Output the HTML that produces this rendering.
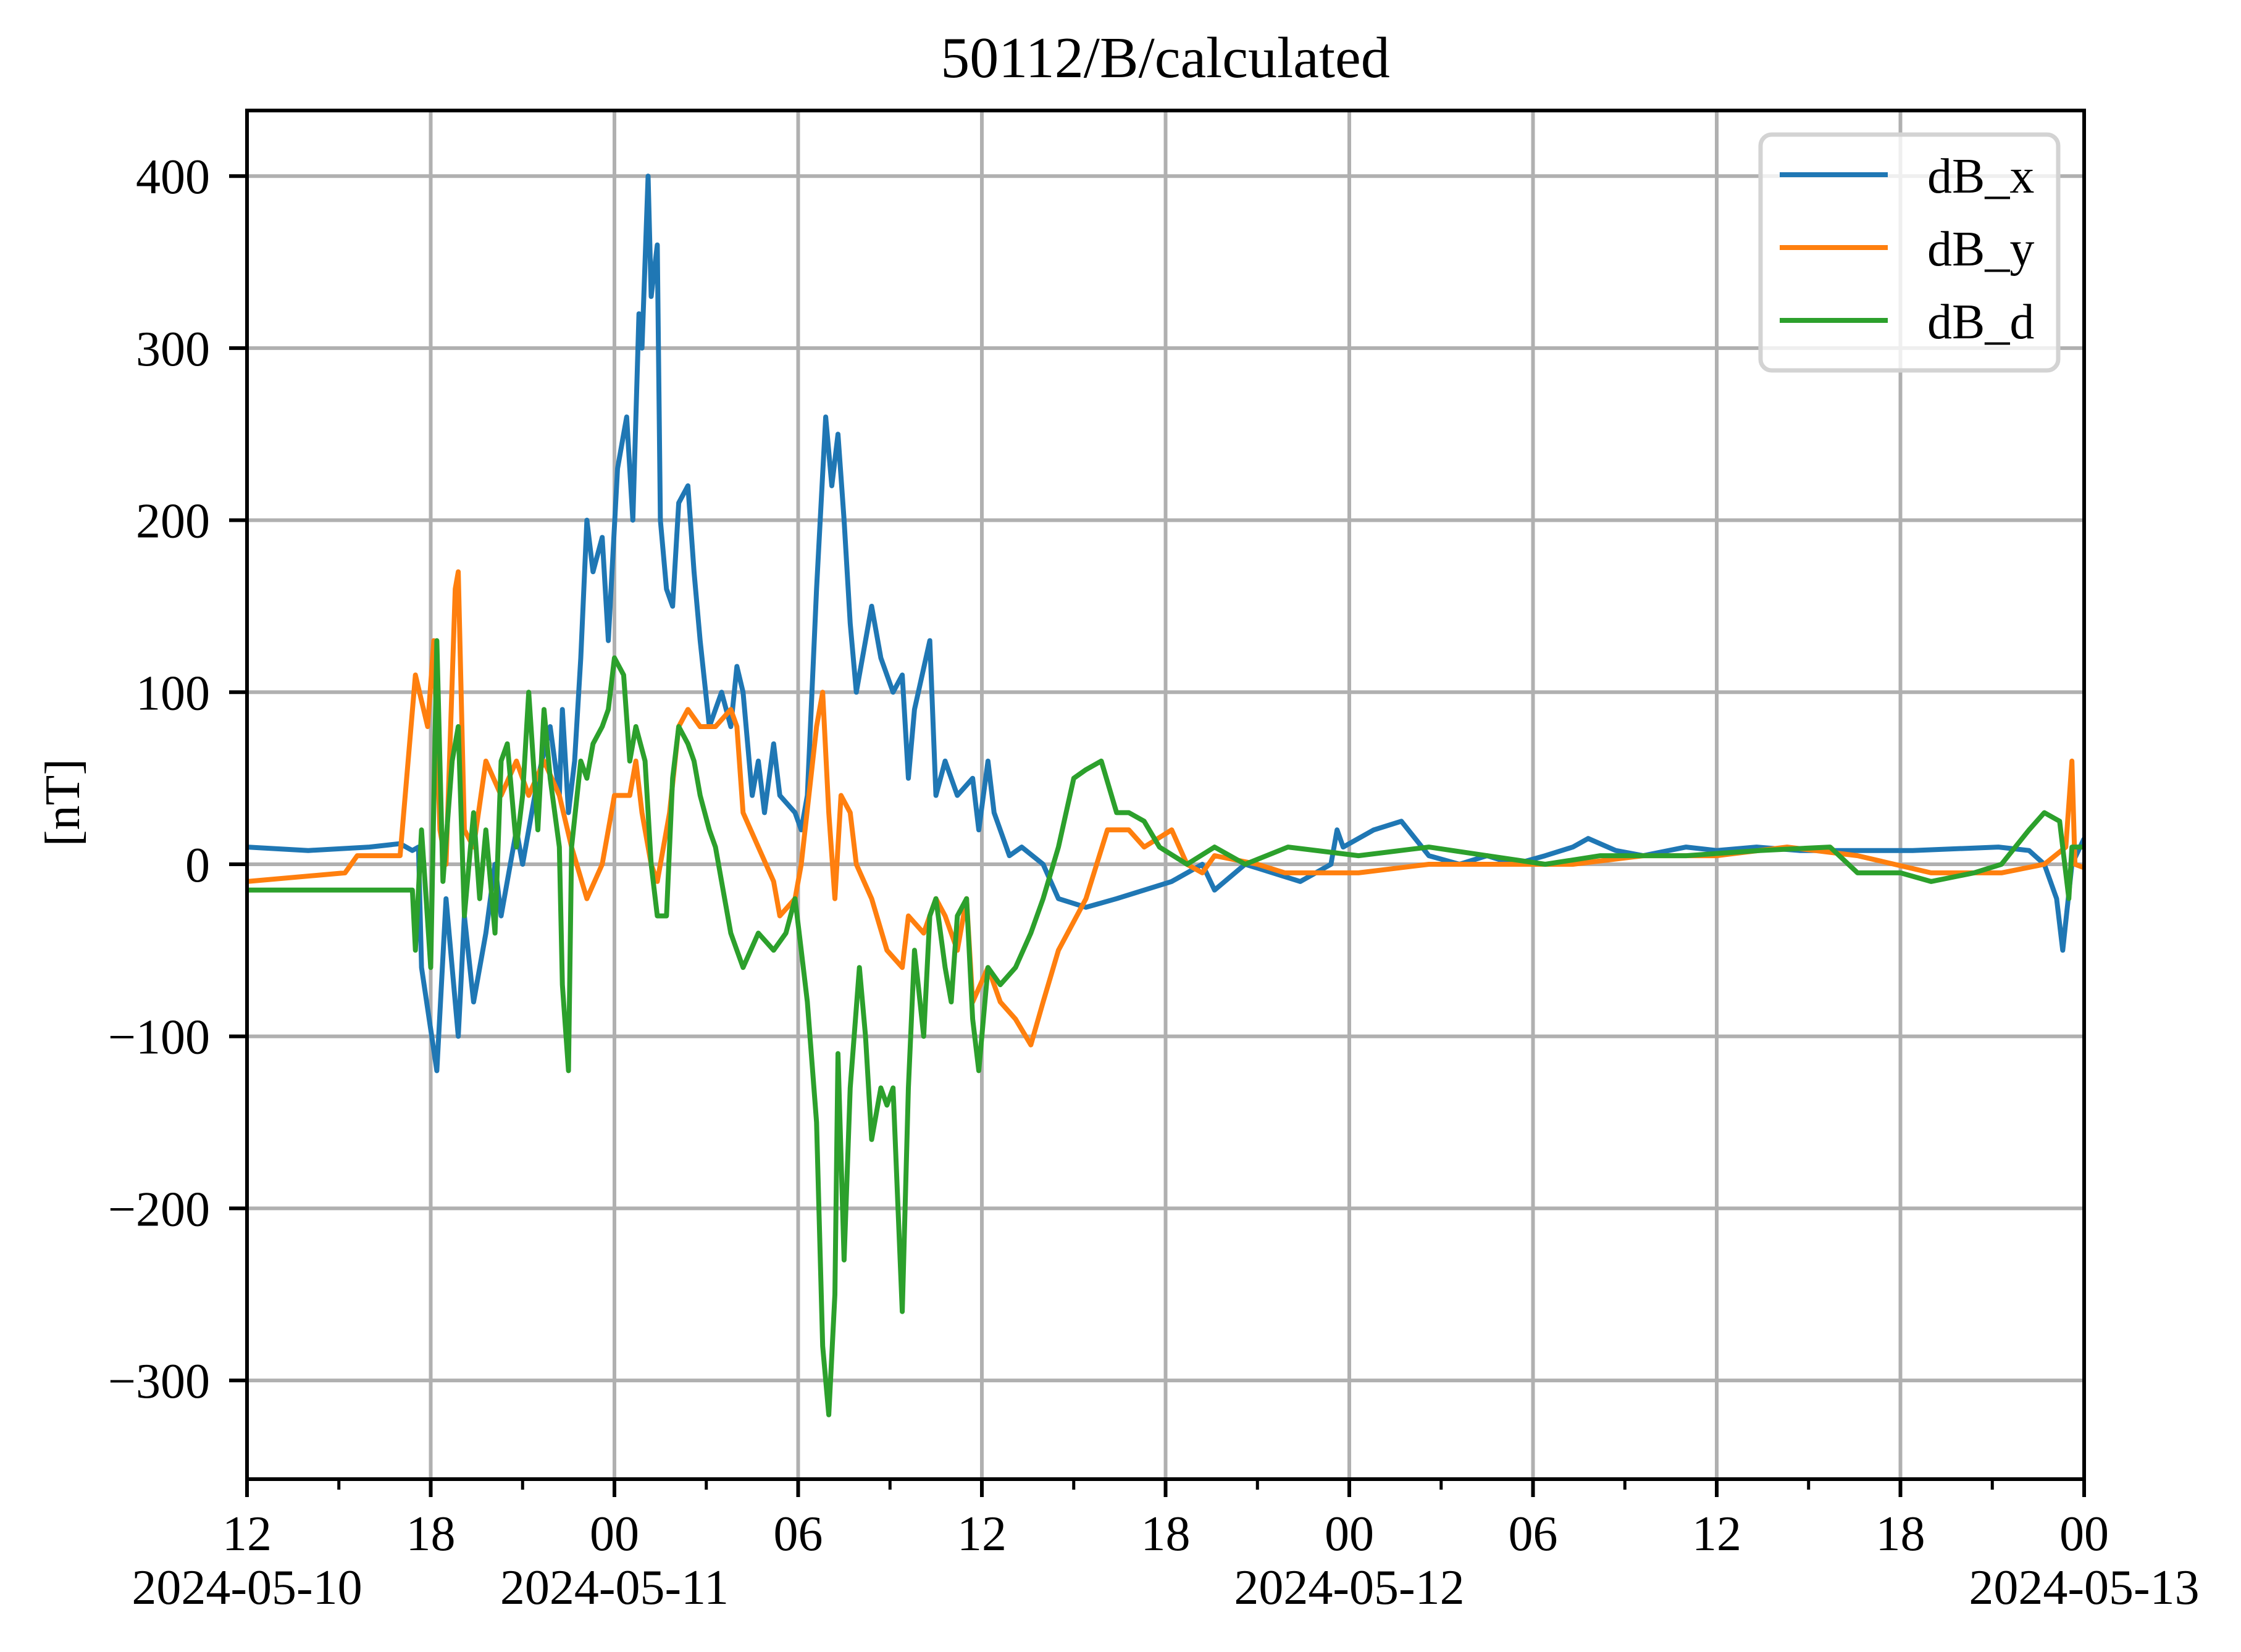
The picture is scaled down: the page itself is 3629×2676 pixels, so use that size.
<!DOCTYPE html>
<html><head><meta charset="utf-8"><style>
html,body{margin:0;padding:0;background:#fff;}
svg{display:block;font-family:"Liberation Serif","DejaVu Serif",serif;}
</style></head><body>
<svg id="chart" width="3629" height="2676" viewBox="0 0 3629 2676" xmlns="http://www.w3.org/2000/svg">
<rect x="0" y="0" width="3629" height="2676" fill="#fff"/>
<g id="grid"></g>
<g id="series"></g>
<g id="axes"></g>
<text x="1887" y="125" font-size="94" text-anchor="middle">50112/B/calculated</text>
<text x="0" y="0" font-size="80" text-anchor="middle" transform="translate(128,1300) rotate(-90)">[nT]</text>
<g id="legend">
<rect x="2851" y="218" width="482" height="382" rx="18" fill="#fff" fill-opacity="0.8" stroke="#d3d3d3" stroke-width="7"/>
<line x1="2882" y1="283" x2="3057" y2="283" stroke="#1f77b4" stroke-width="8"/>
<text x="3121" y="312" font-size="80">dB_x</text>
<line x1="2882" y1="401" x2="3057" y2="401" stroke="#ff7f0e" stroke-width="8"/>
<text x="3121" y="430" font-size="80">dB_y</text>
<line x1="2882" y1="519" x2="3057" y2="519" stroke="#2ca02c" stroke-width="8"/>
<text x="3121" y="548" font-size="80">dB_d</text>
</g>
</svg>
<script>
// hours since 2024-05-10 12:00
const xTickHours = [0,6,12,18,24,30,36,42,48,54,60];
const xTickLabels = ["12","18","00","06","12","18","00","06","12","18","00"];
const xDateHours = [0,12,36,60];
const xDateLabels = ["2024-05-10","2024-05-11","2024-05-12","2024-05-13"];
const yTickValues = [-300,-200,-100,0,100,200,300,400];
const yTickLabels = ["\u2212300","\u2212200","\u2212100","0","100","200","300","400"];

const dbxTime = [0,2,4,5,5.4,5.6,5.7,6.2,6.5,6.7,6.9,7.1,7.4,7.8,8.1,8.3,8.8,9.0,9.5,9.9,10.2,10.3,10.5,10.7,10.9,11.1,11.3,11.6,11.8,12.1,12.4,12.6,12.8,12.9,13.1,13.2,13.4,13.5,13.7,13.9,14.1,14.4,14.6,14.8,15.1,15.5,15.8,16.0,16.2,16.5,16.7,16.9,17.2,17.4,17.9,18.1,18.3,18.6,18.9,19.1,19.3,19.5,19.7,19.9,20.4,20.7,21.1,21.4,21.6,21.8,22.3,22.5,22.8,23.2,23.7,23.9,24.2,24.4,24.7,24.9,25.3,26.0,26.5,27.4,28.4,29.3,30.2,31.2,31.6,32.6,33.5,34.4,35.4,35.6,35.8,36.8,37.7,38.6,39.6,40.5,41.4,42.4,43.3,43.8,44.7,45.6,47.0,48.0,49.3,50.7,52.6,54.4,57.2,58.2,58.7,59.1,59.3,59.6,60];
const dbxValues = [10,8,10,12,8,10,-60,-120,-20,-60,-100,-30,-80,-40,0,-30,20,0,50,80,40,90,30,60,120,200,170,190,130,230,260,200,320,300,400,330,360,200,160,150,210,220,170,130,80,100,80,115,100,40,60,30,70,40,30,20,40,160,260,220,250,200,140,100,150,120,100,110,50,90,130,40,60,40,50,20,60,30,15,5,10,0,-20,-25,-20,-15,-10,0,-15,0,-5,-10,0,20,10,20,25,5,0,5,0,5,10,15,8,5,10,8,10,8,8,8,10,8,0,-20,-50,0,15];

const dbyTime = [0,3.2,3.6,5.0,5.5,5.9,6.1,6.3,6.5,6.8,6.9,7.1,7.4,7.8,8.3,8.8,9.2,9.7,10.2,10.6,11.1,11.6,12.0,12.5,12.7,12.9,13.2,13.4,13.8,14.1,14.4,14.8,15.3,15.8,16.0,16.2,16.7,17.2,17.4,17.9,18.1,18.6,18.8,19.0,19.2,19.4,19.7,19.9,20.4,20.9,21.4,21.6,22.1,22.5,22.8,23.2,23.5,23.7,24.2,24.6,25.1,25.6,26.0,26.5,27.4,28.1,28.8,29.3,30.2,30.7,31.2,31.6,33.0,33.9,36.3,38.6,40.9,43.3,45.6,48.0,50.3,52.6,55.0,57.3,58.7,59.4,59.6,59.7,60];
const dbyValues = [-10,-5,5,5,110,80,130,20,0,160,170,20,10,60,40,60,40,60,40,10,-20,0,40,40,60,30,0,-10,30,80,90,80,80,90,80,30,10,-10,-30,-20,0,80,100,30,-20,40,30,0,-20,-50,-60,-30,-40,-20,-30,-50,-20,-80,-60,-80,-90,-105,-80,-50,-20,20,20,10,20,0,-5,5,0,-5,-5,0,0,0,5,5,10,5,-5,-5,0,10,60,0,-2];

const dbdTime = [0,2.7,5.4,5.5,5.7,6.0,6.2,6.4,6.7,6.9,7.1,7.4,7.6,7.8,8.1,8.3,8.5,8.8,9.0,9.2,9.5,9.7,9.9,10.2,10.3,10.5,10.6,10.9,11.1,11.3,11.6,11.8,12.0,12.3,12.5,12.7,13.0,13.2,13.4,13.7,13.9,14.1,14.4,14.6,14.8,15.1,15.3,15.5,15.8,16.0,16.2,16.7,17.2,17.6,17.9,18.1,18.3,18.6,18.8,19.0,19.2,19.3,19.5,19.7,20.0,20.2,20.4,20.7,20.9,21.1,21.4,21.6,21.8,22.1,22.3,22.5,22.8,23.0,23.2,23.5,23.7,23.9,24.2,24.6,25.1,25.6,26.0,26.5,27.0,27.4,27.9,28.4,28.8,29.3,29.8,30.7,31.6,32.6,34.0,36.3,38.6,40.5,42.4,44.2,47.0,49.4,51.7,52.6,54.0,55.0,56.4,57.3,58.2,58.7,59.2,59.5,59.6,60];
const dbdValues = [-15,-15,-15,-50,20,-60,130,-10,60,80,-30,30,-20,20,-40,60,70,10,40,100,20,90,50,10,-70,-120,10,60,50,70,80,90,120,110,60,80,60,0,-30,-30,50,80,70,60,40,20,10,-10,-40,-50,-60,-40,-50,-40,-20,-50,-80,-150,-280,-320,-250,-110,-230,-130,-60,-100,-160,-130,-140,-130,-260,-130,-50,-100,-30,-20,-60,-80,-30,-20,-90,-120,-60,-70,-60,-40,-20,10,50,55,60,30,30,25,10,0,10,0,10,5,10,5,0,5,5,8,10,-5,-5,-10,-5,0,20,30,25,-20,10,10];

const L=400,R=3375,T=179,B=2396;
const X0=0,X1=60;
function xScale(h){return L+(h-X0)/(X1-X0)*(R-L);}
const Y0px=1400, PX_PER=2.787;
function yScale(v){return Y0px - v*PX_PER;}
const NS="http://www.w3.org/2000/svg";
function mk(tag,attrs,parent){const e=document.createElementNS(NS,tag);for(const k in attrs)e.setAttribute(k,attrs[k]);parent.appendChild(e);return e;}

const grid=document.getElementById('grid');
const axes=document.getElementById('axes');
const series=document.getElementById('series');

xTickHours.forEach((h,i)=>{
  const x=xScale(h);
  const g=mk('line',{x1:x,y1:T,x2:x,y2:B,stroke:'#b0b0b0','stroke-width':6},grid);
  
  
  const t=mk('line',{x1:x,y1:B,x2:x,y2:B+29,stroke:'#000','stroke-width':6},axes);
  
  
  const lb=mk('text',{x:x,y:2511,'font-size':80,'text-anchor':'middle'},axes);
  lb.textContent=xTickLabels[i];
  
  
});
for(let h=3;h<60;h+=6){
  const x=xScale(h);
  const t=mk('line',{x1:x,y1:B,x2:x,y2:B+17,stroke:'#000','stroke-width':5},axes);
  
  
}
xDateHours.forEach((h,i)=>{
  const lb=mk('text',{x:xScale(h),y:2598,'font-size':80,'text-anchor':'middle'},axes);
  lb.textContent=xDateLabels[i];
  
  
});
yTickValues.forEach((v,i)=>{
  const y=yScale(v);
  const g=mk('line',{x1:L,y1:y,x2:R,y2:y,stroke:'#b0b0b0','stroke-width':6},grid);
  
  
  const t=mk('line',{x1:L-29,y1:y,x2:L,y2:y,stroke:'#000','stroke-width':6},axes);
  
  
  const lb=mk('text',{x:340,y:y+28,'font-size':80,'text-anchor':'end'},axes);
  lb.textContent=yTickLabels[i];
  
  
});
const frame=mk('rect',{x:L,y:T,width:R-L,height:B-T,fill:'none',stroke:'#000','stroke-width':6},axes);



const clip=mk('clipPath',{id:'pc'},series);
mk('rect',{x:L,y:T,width:R-L,height:B-T},clip);
function drawLine(times,vals,color,name){
  const d=times.map((h,i)=>(i?'L':'M')+xScale(h).toFixed(1)+','+yScale(vals[i]).toFixed(1)).join('');
  const p=mk('path',{d:d,fill:'none',stroke:color,'stroke-width':8,'stroke-linejoin':'round','clip-path':'url(#pc)'},series);
  
  
}
drawLine(dbxTime,dbxValues,'#1f77b4','series-dbx');
drawLine(dbyTime,dbyValues,'#ff7f0e','series-dby');
drawLine(dbdTime,dbdValues,'#2ca02c','series-dbd');
</script>
</body></html>
